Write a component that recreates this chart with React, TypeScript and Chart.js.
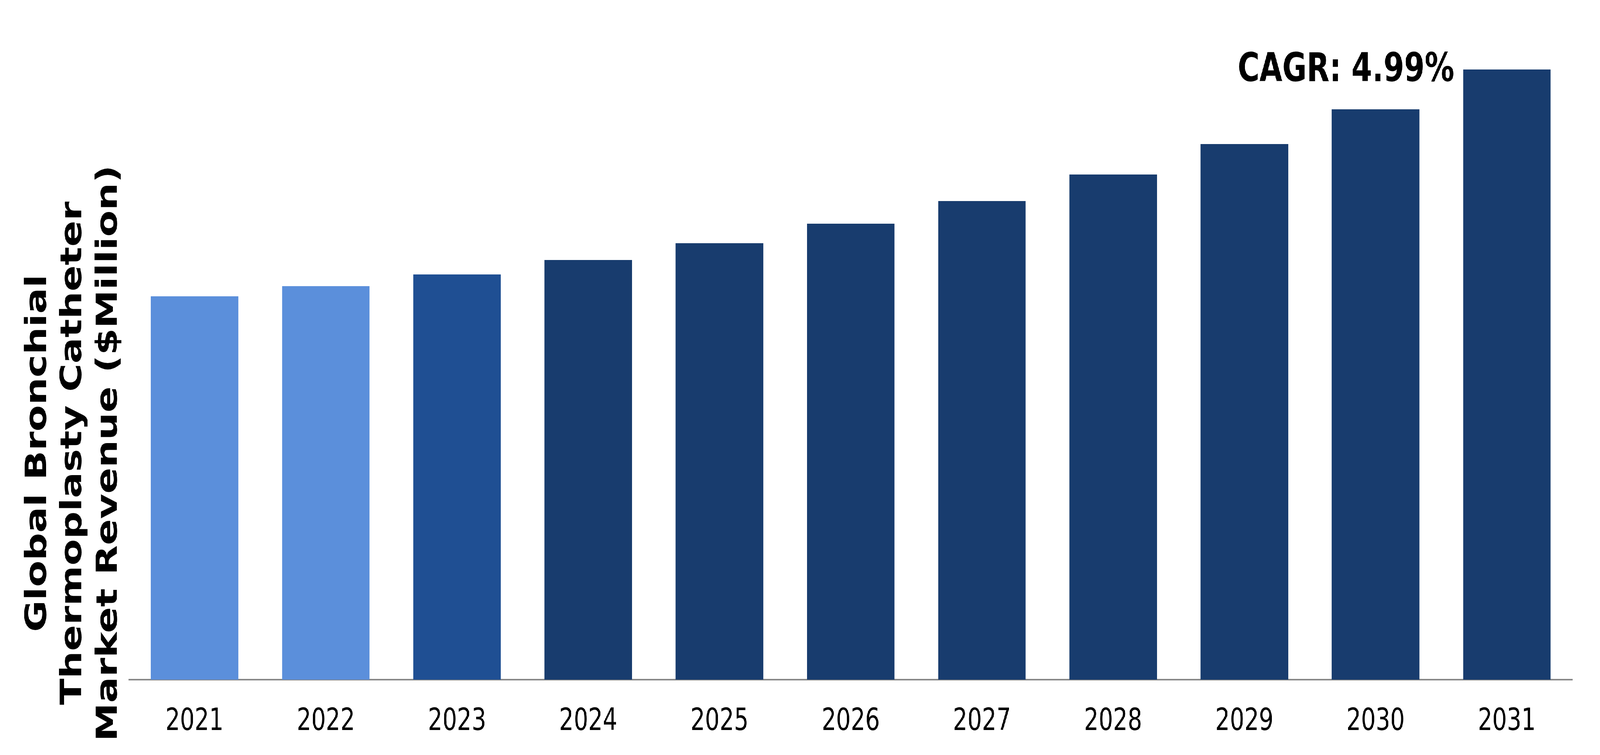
import React, { useEffect, useRef, useState } from "react";
import { Chart, registerables } from "chart.js";

Chart.register(...registerables);

const categories = ["2021", "2022", "2023", "2024", "2025", "2026", "2027", "2028", "2029", "2030", "2031"];
const revenue = [98.2, 100.8, 103.8, 107.5, 111.8, 116.8, 122.6, 129.4, 137.2, 146.1, 156.3];
const barColors = [
  "#5B8FDB", "#5B8FDB", "#1F4F93", "#183C6E", "#183C6E", "#183C6E",
  "#183C6E", "#183C6E", "#183C6E", "#183C6E", "#183C6E",
];
const yTitleLines = ["Global Bronchial", "Thermoplasty Catheter", "Market Revenue ($Million)"];
const cagrLabel = "CAGR: 4.99%";

const W = 5459;
const H = 1934;

const annotations = {
  id: "annotations",
  afterDraw(chart: any) {
    const ctx = chart.ctx;
    ctx.save();
    ctx.fillStyle = "#000";
    ctx.font = "bold 99px 'DejaVu Sans'";
    ctx.textAlign = "center";
    ctx.textBaseline = "alphabetic";
    const xs = [157, 277, 399];
    yTitleLines.forEach((line, i) => {
      ctx.save();
      ctx.translate(xs[i], 1161);
      ctx.rotate(-Math.PI / 2);
      ctx.fillText(line, 0, 0);
      ctx.restore();
    });
    ctx.font = "bold 101px 'DejaVu Sans'";
    ctx.textAlign = "left";
    ctx.fillText(cagrLabel, 4223, 208);
    ctx.restore();
  },
};

export default function App() {
  const ref = useRef<HTMLCanvasElement | null>(null);
  const [sx, setSx] = useState(1);
  useEffect(() => {
    const vw = window.innerWidth || W;
    setSx(Math.min(1, vw / W));
    if (!ref.current) return;
    const chart = new Chart(ref.current, {
      type: "bar",
      data: {
        labels: categories,
        datasets: [
          {
            data: revenue,
            backgroundColor: barColors,
            borderWidth: 0,
            barPercentage: 1,
            categoryPercentage: 0.667,
          },
        ],
      },
      options: {
        responsive: false,
        animation: false,
        devicePixelRatio: 1,
        layout: { padding: { left: 440, right: 94, top: 41, bottom: 0 } },
        plugins: {
          legend: { display: false },
          tooltip: { enabled: false },
          title: { display: false },
        },
        scales: {
          x: {
            grid: { display: false, drawTicks: false },
            border: { display: true, color: "#898989", width: 4 },
            ticks: {
              color: "#000",
              padding: 62,
              font: { family: "'DejaVu Sans'", size: 78 },
              maxRotation: 0,
              autoSkip: false,
            },
            afterFit: (scale: any) => {
              scale.height = 193;
            },
          },
          y: {
            display: false,
            min: 0,
            max: 170,
          },
        },
      },
      plugins: [annotations],
    });
    return () => chart.destroy();
  }, []);
  return (
    <div
      style={{
        position: "fixed",
        left: 0,
        top: 0,
        width: W,
        height: H,
        background: "#fff",
        transform: `scaleX(${sx})`,
        transformOrigin: "0 0",
      }}
    >
      <canvas ref={ref} width={W} height={H} style={{ width: W, height: H, display: "block" }} />
    </div>
  );
}
